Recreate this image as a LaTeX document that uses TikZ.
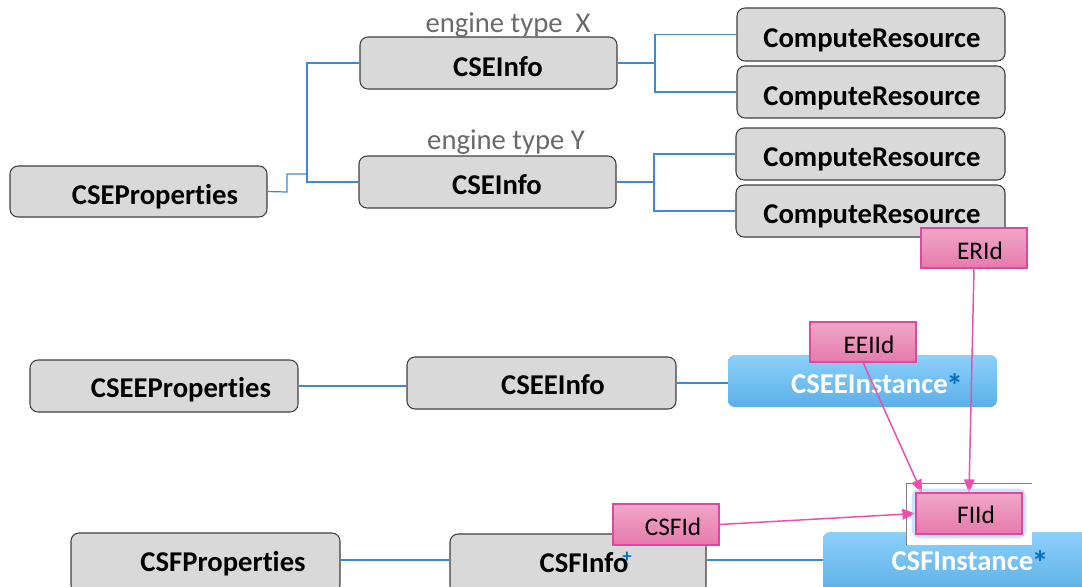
\documentclass[tikz,border=0pt]{standalone}
\usepackage{fontspec}
\setmainfont[Ligatures=NoCommon]{Carlito}
\usetikzlibrary{arrows.meta}
\definecolor{boxfill}{HTML}{D9D9D9}
\definecolor{boxline}{HTML}{3F3F3F}
\definecolor{treeblue}{HTML}{3A8BD6}
\definecolor{pinktop}{HTML}{F0A7C8}
\definecolor{pinkbot}{HTML}{E67AAD}
\definecolor{pinkline}{HTML}{E0479E}
\definecolor{arrowpink}{HTML}{EC4DAE}
\definecolor{bluetop}{HTML}{8CD0FA}
\definecolor{bluebot}{HTML}{5CAFE8}
\definecolor{astblue}{HTML}{0070C0}
\definecolor{labgray}{HTML}{6A6A6A}
\definecolor{glow}{HTML}{A8D5F7}
\newcommand{\blueast}{\kern-1pt\raisebox{-3.5pt}{\fontsize{25}{25}\selectfont\textcolor{astblue}{*}}}
\begin{document}
\begin{tikzpicture}[x=0.75pt,y=-0.75pt,
  sz/.style n args={2}{minimum width=#1*0.75pt,minimum height=#2*0.75pt,inner sep=0pt},
  graybox/.style={draw=boxline,line width=0.8pt,fill=boxfill,rounded corners=6pt},
  bluebox/.style={top color=bluetop,bottom color=bluebot,rounded corners=5pt},
  pinkbox/.style={draw=pinkline,line width=0.8pt,top color=pinktop,bottom color=pinkbot},
  btxt/.style={anchor=base,font=\fontsize{21.5}{24}\selectfont\bfseries,inner sep=0pt},
  wtxt/.style={anchor=base,font=\fontsize{21.5}{24}\selectfont\bfseries,text=white,inner sep=0pt},
  ptxt/.style={anchor=base,font=\fontsize{19}{22}\selectfont,inner sep=0pt},
  gtxt/.style={anchor=base,font=\fontsize{21.5}{24}\selectfont,text=labgray,inner sep=0pt},
  tree/.style={draw=treeblue,line width=0.9pt},
  parrow/.style={draw=arrowpink,line width=1.1pt,-{Triangle[length=10pt,width=8pt]}}]
\clip (0,0) rectangle (1082,586);
\fill[white] (0,0) rectangle (1082,586);

% gray boxes
\node[graybox,sz={257}{51}] (cseprop) at (138.5,191.5) {};
\node[graybox,sz={257}{52}] (cseinfoX) at (488.5,63) {};
\node[graybox,sz={257}{52}] (cseinfoY) at (487.5,182) {};
\node[graybox,sz={268}{53}] (cr1) at (871,34.5) {};
\node[graybox,sz={268}{52}] (cr2) at (871,92) {};
\node[graybox,sz={269}{52}] (cr3) at (870.5,154) {};
\node[graybox,sz={269}{52}] (cr4) at (870.5,211) {};
\node[graybox,sz={268}{52}] (ceeprop) at (164,386) {};
\node[graybox,sz={269}{52}] (ceeinfo) at (541.5,383) {};
\node[graybox,sz={269}{60}] (csfprop) at (205.5,563) {};
\node[graybox,sz={256}{60}] (csfinfo) at (578,564) {};

% blue boxes
\node[bluebox,sz={269}{52}] (ceeinst) at (862.5,381) {};
\node[bluebox,sz={267}{62}] (csfinst) at (956.5,563) {};

% tree connectors
\coordinate (j0) at (287,192);
\coordinate (j1) at (307,174);
\draw[tree] (cseprop.east) -- (j0) |- (j1);
\draw[tree] (cseinfoX.west) -- (cseinfoX.west -| j1) -- (cseinfoY.west -| j1) -- (cseinfoY.west);
\coordinate (k1) at (655,63);
\coordinate (k2) at (654,182);
\draw[tree] (cseinfoX.east) -- (k1);
\draw[tree] (cr1.west) -- (cr1.west -| k1) -- (cr2.west -| k1) -- (cr2.west);
\draw[tree] (cseinfoY.east) -- (k2);
\draw[tree] (cr3.west) -- (cr3.west -| k2) -- (cr4.west -| k2) -- (cr4.west);
\draw[tree] (ceeprop.east) -- (ceeprop.east -| ceeinfo.west);
\draw[tree] (ceeinfo.east) -- (ceeinfo.east -| ceeinst.west);
\draw[tree] (csfprop.east |- 0,560) -- (csfinfo.west |- 0,560);
\draw[tree] (csfinfo.east |- 0,560) -- (csfinst.west |- 0,560);

% texts
\node[btxt] (t-cseprop) at (155,204) {CSEProperties};
\node[btxt] (t-cseinfoX) at (498,76) {CSEInfo};
\node[btxt] (t-cseinfoY) at (497,194) {CSEInfo};
\node[gtxt] (t-engX) at (508,32) {engine type\ \ X};
\node[gtxt] (t-engY) at (506,149) {engine type Y};
\node[btxt] (t-cr1) at (872,47) {ComputeResource};
\node[btxt] (t-cr2) at (872,105) {ComputeResource};
\node[btxt] (t-cr3) at (872,166) {ComputeResource};
\node[btxt] (t-cr4) at (872,223) {ComputeResource};
\node[btxt] (t-ceeprop) at (181,397) {CSEEProperties};
\node[btxt] (t-ceeinfo) at (553,394) {CSEEInfo};
\node[wtxt] (t-ceeinst) at (877,393) {CSEEInstance\blueast};
\node[btxt] (t-csfprop) at (223,571) {CSFProperties};
\node[btxt] (t-csfinfo) at (584,572) {CSFInfo};
\node[anchor=center,inner sep=0pt,text=astblue,font=\fontsize{14}{14}\selectfont\bfseries] (plus) at (627,557) {+};

% FIId frame
\fill[white] (906,483) rectangle (1032,545);
\draw[gray,line width=0.6pt] (906,545) -- (906,483) -- (1032,483);
\node[wtxt] (t-csfinst) at (970,570) {CSFInstance\blueast};

% pink box positions (for arrows)
\node[sz={106}{40}] (erid) at (974,248) {};
\node[sz={106}{40}] (eeiid) at (863,342) {};
\node[sz={106}{41}] (fiid) at (969,513.5) {};
\node[sz={106}{41}] (csfid) at (666,524.5) {};
\coordinate (fiidin) at (922,493);

% arrows
\draw[parrow] (erid.south) -- (fiid.north);
\draw[parrow] (eeiid.south) -- (fiidin);
\draw[parrow] (csfid.east) -- (fiid.west);

% glow round FIId
\draw[glow,line width=6pt,opacity=0.6,rounded corners=3pt] (fiid.south west) rectangle (fiid.north east);

% pink boxes
\node[pinkbox,sz={106}{40}] (erid-b) at (erid) {};
\node[pinkbox,sz={106}{40}] (eeiid-b) at (eeiid) {};
\node[pinkbox,sz={106}{41}] (fiid-b) at (fiid) {};
\node[pinkbox,sz={106}{41}] (csfid-b) at (csfid) {};
\node[ptxt] (t-erid) at (980,259) {ERId};
\node[ptxt] (t-eeiid) at (869,353) {EEIId};
\node[ptxt] (t-fiid) at (976,523) {FIId};
\node[ptxt] (t-csfid) at (673,535) {CSFId};
\end{tikzpicture}
\end{document}
